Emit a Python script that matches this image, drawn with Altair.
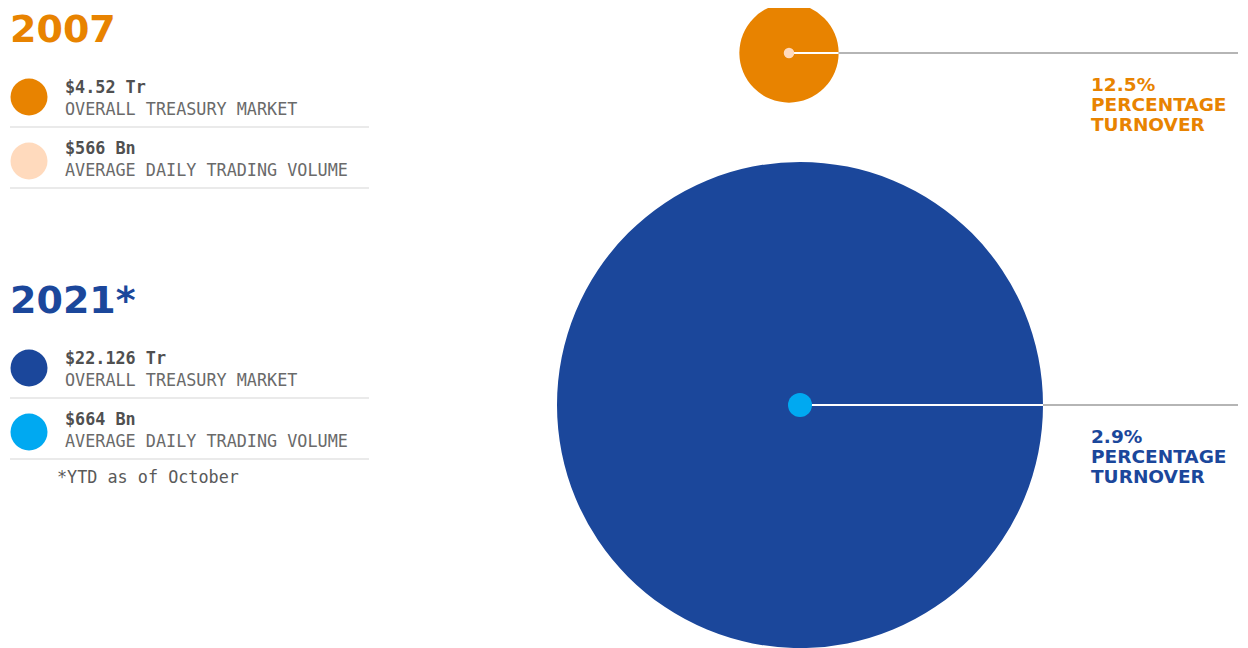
import altair as alt
import pandas as pd

# ---------------- data ----------------
years = ["2007", "2021*"]
market_tr = [4.52, 22.126]
market_text = ["$4.52 Tr", "$22.126 Tr"]
volume_bn = [566, 664]
volume_text = ["$566 Bn", "$664 Bn"]
turnover_pct = [12.5, 2.9]
market_desc = "OVERALL TREASURY MARKET"
volume_desc = "AVERAGE DAILY TRADING VOLUME"
turnover_words = ["PERCENTAGE", "TURNOVER"]
footnote = "*YTD as of October"

main_colors = ["#E88300", "#1B479B"]
light_colors = ["#FFDABD", "#00A9F1"]

# ---------------- layout (page pixel coordinates) ----------------
W, H = 1232, 640
X0, Y0 = 8, 8
bubble_cx = [789, 800]
bubble_cy = [53, 405]
max_radius = 243
label_x = 1091
line_end = 1238
block_y = [0, 271]

xs = alt.Scale(domain=[X0, X0 + W], nice=False, zero=False)
ys = alt.Scale(domain=[Y0, Y0 + H], nice=False, zero=False, reverse=True)

main_keys = [y + " market" for y in years]
light_keys = [y + " volume" for y in years]
color_scale = alt.Scale(domain=main_keys + light_keys, range=main_colors + light_colors)
text_color_scale = alt.Scale(domain=years, range=main_colors)

# bubbles
bub = pd.DataFrame({
    "year": years,
    "market": market_tr,
    "volume": volume_bn,
    "pct": turnover_pct,
    "cx": bubble_cx,
    "cy": bubble_cy,
})
bub["mkey"] = [y + " market" for y in years]
bub["vkey"] = [y + " volume" for y in years]
bub["r"] = bub["market"] / max(market_tr) * max_radius
bub["edge"] = bub["cx"] + bub["r"]
bub["end"] = line_end
bub["lx"] = label_x

base = alt.Chart(bub)

big = base.mark_circle(opacity=1, strokeWidth=0).encode(
    x=alt.X("cx:Q", scale=xs, axis=None),
    y=alt.Y("cy:Q", scale=ys, axis=None),
    size=alt.Size("market:Q", scale=alt.Scale(type="pow", exponent=2,
                  domain=[0, max(market_tr)], range=[0, (2 * max_radius) ** 2]), legend=None),
    color=alt.Color("mkey:N", scale=color_scale, legend=None),
)

white_rule = base.mark_rule(color="white", strokeWidth=2).encode(
    x=alt.X("cx:Q", scale=xs, axis=None), x2="edge:Q",
    y=alt.Y("cy:Q", scale=ys, axis=None),
)
grey_rule = base.mark_rule(color="#B5B5B5", strokeWidth=2).encode(
    x=alt.X("edge:Q", scale=xs, axis=None), x2="end:Q",
    y=alt.Y("cy:Q", scale=ys, axis=None),
)

inner = base.mark_circle(opacity=1, strokeWidth=0).encode(
    x=alt.X("cx:Q", scale=xs, axis=None),
    y=alt.Y("cy:Q", scale=ys, axis=None),
    size=alt.Size("year:N", scale=alt.Scale(domain=years, range=[110, 576]), legend=None),
    color=alt.Color("vkey:N", scale=color_scale, legend=None),
)

# turnover labels
rows = []
for i, y in enumerate(years):
    lines = [f"{turnover_pct[i]}%"] + turnover_words
    for j, t in enumerate(lines):
        rows.append({"year": y, "text": t, "x": label_x, "y": bubble_cy[i] + 38 + 20 * j})
tl = pd.DataFrame(rows)
turn_text = alt.Chart(tl).mark_text(
    align="left", baseline="alphabetic", font="DejaVu Sans", fontWeight="bold", fontSize=18.5
).encode(
    x=alt.X("x:Q", scale=xs, axis=None), y=alt.Y("y:Q", scale=ys, axis=None),
    text="text:N",
    color=alt.Color("year:N", scale=text_color_scale, legend=None),
)

# ---------------- legend panel ----------------
head_rows, dot_rows, val_rows, desc_rows, sep_rows = [], [], [], [], []
for i, y in enumerate(years):
    oy = block_y[i]
    head_rows.append({"year": y, "text": y, "x": 10, "y": oy + 42})
    dot_rows.append({"key": y + " market", "x": 29, "y": oy + 97})
    dot_rows.append({"key": y + " volume", "x": 29, "y": oy + 161})
    val_rows.append({"text": market_text[i], "x": 65, "y": oy + 93})
    val_rows.append({"text": volume_text[i], "x": 65, "y": oy + 154})
    desc_rows.append({"text": market_desc, "x": 65, "y": oy + 115})
    desc_rows.append({"text": volume_desc, "x": 65, "y": oy + 176})
    sep_rows.append({"x": 10, "x2": 369, "y": oy + 127})
    sep_rows.append({"x": 10, "x2": 369, "y": oy + 188})

heads = alt.Chart(pd.DataFrame(head_rows)).mark_text(
    align="left", baseline="alphabetic", font="DejaVu Sans", fontWeight="bold", fontSize=38
).encode(
    x=alt.X("x:Q", scale=xs, axis=None), y=alt.Y("y:Q", scale=ys, axis=None),
    text="text:N",
    color=alt.Color("year:N", scale=text_color_scale, legend=None),
)

legend_dots = alt.Chart(pd.DataFrame(dot_rows)).mark_circle(opacity=1, strokeWidth=0, size=37 ** 2).encode(
    x=alt.X("x:Q", scale=xs, axis=None), y=alt.Y("y:Q", scale=ys, axis=None),
    color=alt.Color("key:N", scale=color_scale, legend=None),
)

vals = alt.Chart(pd.DataFrame(val_rows)).mark_text(
    align="left", baseline="alphabetic", font="DejaVu Sans Mono", fontWeight="bold",
    fontSize=16.8, color="#505050"
).encode(
    x=alt.X("x:Q", scale=xs, axis=None), y=alt.Y("y:Q", scale=ys, axis=None), text="text:N",
)

descs = alt.Chart(pd.DataFrame(desc_rows)).mark_text(
    align="left", baseline="alphabetic", font="DejaVu Sans Mono",
    fontSize=16.8, color="#6A6A6A"
).encode(
    x=alt.X("x:Q", scale=xs, axis=None), y=alt.Y("y:Q", scale=ys, axis=None), text="text:N",
)

seps = alt.Chart(pd.DataFrame(sep_rows)).mark_rule(color="#E3E3E3", strokeWidth=1.5).encode(
    x=alt.X("x:Q", scale=xs, axis=None), x2="x2:Q", y=alt.Y("y:Q", scale=ys, axis=None),
)

foot = alt.Chart(pd.DataFrame([{"text": footnote, "x": 57, "y": 483}])).mark_text(
    align="left", baseline="alphabetic", font="DejaVu Sans Mono",
    fontSize=16.8, color="#5A5A5A"
).encode(
    x=alt.X("x:Q", scale=xs, axis=None), y=alt.Y("y:Q", scale=ys, axis=None), text="text:N",
)

chart = alt.layer(
    big, white_rule, grey_rule, inner, turn_text,
    seps, legend_dots, heads, vals, descs, foot,
).properties(
    width=W, height=H, padding=0, background="white",
    autosize=alt.AutoSizeParams(type="none"),
).configure_view(strokeWidth=0, stroke="transparent")

chart.save("out.html", embed_options={"renderer": "svg", "actions": False})
